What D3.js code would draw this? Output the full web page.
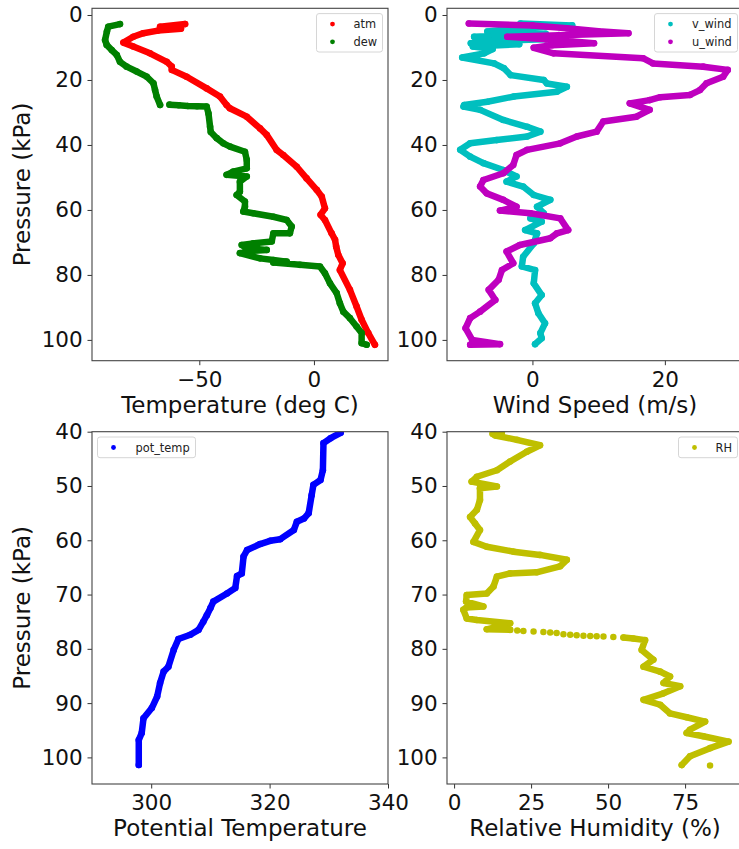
<!DOCTYPE html>
<html>
<head>
<meta charset="utf-8">
<script src="https://cdn.jsdelivr.net/npm/d3@7"></script>
<style>
  body { margin: 0; background: #fff; }
  svg { display: block; font-family: "DejaVu Sans", sans-serif; }
</style>
</head>
<body>
<svg id="chart" width="739" height="849"></svg>
<script>
// sounding data: [pressure kPa, value]; null = gap between dots
const atm = [[2.8,-56.2],[3.6,-67.1],[4.2,-58],[4.8,-68],[5.6,-74.4],[6.7,-78.8],[8.5,-83.1],[9.7,-78.8],
  [11.8,-71.5],[14.4,-64.2],[15.9,-62.0],[16.9,-62.0],[19.0,-55.5],[22.6,-46.8],[25.1,-41.0],[27.7,-38.1],
  [28.7,-36.7],[31.3,-29.3],[34.9,-23.5],[36.9,-20.6],[41.5,-16.3],[43.1,-13.4],[46.7,-7.5],[50.3,-3.2],
  [53.8,1.2],[55.9,3.4],[59.5,4.8],[61.5,2.9],[63.1,4.8],[67.2,7.7],[69.2,9.2],[71.3,9.7],[73.8,10.6],
  [76.4,12.5],[78.5,11.3],[84.6,15.7],[89.7,18.6],[93.8,20.8],[97.9,23.7],[101.5,26.6]];
const dew = [[2.8,-84.6],[3.6,-89.7],[5.1,-90.3],[7.7,-91.1],[9.2,-90.4],[10.8,-88.2],[12.3,-86.0],[14.4,-84.6],
  [15.9,-81.7],[17.4,-77.3],[19.0,-72.9],[21.0,-70.0],[23.1,-69.3],[25.1,-68.6],[27.7,-67.1],null,
  [27.6,-63],[27.8,-59],[28.0,-55],[28.1,-51],[28.2,-46.8],[30.3,-46.0],[34.4,-45.3],[36.0,-45.0],[37.9,-42.4],
  [39.5,-39.5],[40.5,-36.6],[42.1,-30.1],[44.6,-29.3],[47.2,-29.3],[48.2,-35.2],[49.2,-38.1],[49.7,-29.3],
  [51.3,-32.3],[54.4,-32.3],[55.4,-33.7],[57.4,-30.1],[59.0,-30.1],[60.5,-30.8],[61.0,-26.5],[62.1,-17.7],
  [63.1,-11.9],[65.1,-9.7],[67.2,-10.5],[67.2,-17.7],[69.7,-18.4],[70.3,-26.5],[70.8,-31.5],[71.8,-29.3],
  [72.3,-20.6],[72.6,-26.5],[73.3,-32.3],[74.9,-23.5],[75.4,-17.7],[75.9,-11.9],[76.2,-17.7],[76.9,-6.1],
  [77.4,2.6],[79.5,4.8],[82.6,7.0],[85.6,9.9],[88.7,11.3],[91.3,12.8],[93.3,15.7],[95.9,18.6],[97.9,20.8],
  [101.0,20.8],[101.5,23.0]];
const vWind = [[2.6,-1.8],[3.2,6.0],[4.0,-2],[5.1,-6.8],[5.8,2],[6.7,-8.8],[7.3,3.7],[8.0,-6],[8.7,-9.3],
  [9.0,-2],[9.7,-9.0],[10.5,-6],[11.8,-7.3],[13.1,-10.6],[14.9,-5.8],[16.4,-4.3],[18.5,-3.3],[20.0,1.7],
  [21.1,2.2],[22.1,5.2],[23.6,3.7],[25.1,-2.8],[26.7,-6.8],[27.7,-10.3],[28.2,-10.4],[29.2,-7.9],[32.3,-4.4],
  [34.4,-0.8],[35.9,1.2],[37.4,-0.8],[38.5,-5.4],[39.5,-9.4],[41.5,-10.9],[43.6,-9.4],[45.6,-7.4],[47.7,-4.4],
  [49.7,-2.4],[51.3,-3.9],[52.8,-1.4],[55.4,0.2],[56.9,2.7],[59.0,0.7],[61.0,1.7],[62.6,-0.3],[63.6,1.4],
  [66.2,-1.1],[67.2,0.7],[70.3,0.2],[74.4,-1.4],[77.4,-1.6],[78.5,0.4],[82.6,0.2],[86.2,1.4],[88.7,0.4],
  [91.8,0.9],[94.9,1.9],[97.9,1.2],[99.5,1.4],[101.3,0.4]];
const uWind = [[2.6,-9.6],[3.2,0],[4.1,5.2],[5.0,10],[5.6,14.5],[6.2,4],[6.7,-3.8],[7.5,2],[8.7,9.3],[9.3,3],
  [10.1,0.2],[11.8,3.2],[13.3,16.7],[14.9,18.2],[15.9,25.8],[16.9,29.5],[19.0,28.8],[21.0,26.3],[23.1,25.3],
  [24.6,23.8],[25.3,19.3],[26.2,17.7],[27.2,14.7],[29.2,17.7],[31.3,15.7],[32.8,10.7],[35.9,9.7],[37.4,6.7],
  [39.5,4.2],[41.5,-0.8],[43.1,-2.4],[46.2,-2.9],[48.7,-4.4],[50.8,-7.4],[52.8,-7.9],[54.9,-6.9],[56.9,-4.4],
  [59.0,-2.4],[60.2,-4.9],[61.0,-0.3],[62.6,4.2],[66.2,5.4],[67.2,3.7],[68.7,2.7],[70.8,-1.9],[72.8,-3.9],
  [76.4,-2.9],[78.5,-4.6],[81.5,-5.1],[84.6,-6.6],[87.7,-5.6],[91.3,-7.9],[93.3,-9.4],[96.4,-10.1],[100.0,-9.1],
  [101.3,-4.9],[101.5,-9.4]];
const potTemp = [[40.2,332.0],[41.2,330.3],[42.1,329.1],[47.1,329.0],[48.9,328.6],[49.8,327.4],[51.7,327.1],
  [55.0,326.6],[56.0,325.8],[56.6,324.6],[58.1,324.1],[59.8,321.8],[60.1,320.1],[60.7,318.4],[61.8,316.2],
  [63.0,315.6],[66.1,315.3],[66.6,314.5],[68.8,314.2],[69.8,312.8],[71.3,310.5],[72.5,310.0],[73.8,309.4],
  [75.0,308.8],[76.5,308.0],[77.4,306.6],[78.2,304.6],[80.2,303.8],[83.3,302.9],[84.2,302.1],[86.3,301.5],
  [88.8,301.0],[90.9,300.1],[92.8,298.7],[95.5,298.4],[96.8,297.9],[101.4,297.9]];
const rh = [[40.2,15.5],[40.4,12.5],[40.7,13.4],[41.5,20.4],[42.5,27.9],[43.7,23.6],[45.5,18.2],[47.1,13.9],
  [48.3,7.4],[49.2,5.7],[50.1,13.9],[50.4,8.4],[52.6,8.4],[54.4,7.4],[55.7,5.2],[56.9,6.8],[58.1,8.4],
  [60.3,6.3],[61.2,10.6],[62.1,19.3],[62.7,27.9],[63.6,36.6],[64.8,34.4],[65.9,26.8],[66.1,18.2],[66.7,13.9],
  [68.5,12.8],[69.8,10.6],[70.1,4.1],[71.3,3.9],[72.2,9.5],[72.4,4],[72.8,3.0],[74.4,4.1],[74.7,7.4],
  [75.3,18.2],[76.4,10.6],[76.5,18.2],null,[76.6,20.5],null,[76.7,22.5],null,[76.8,25.8],null,[76.9,29.0],null,
  [77.0,31.2],null,[77.1,33.3],null,[77.3,35.5],null,[77.4,37.7],null,[77.5,39.8],null,[77.6,42.0],null,
  [77.65,44.2],null,[77.7,46.3],null,[77.75,48.5],null,[77.8,51.7],null,[77.9,55.0],[78.1,58.2],[78.4,62.0],
  [80.2,60.9],[82.0,64.7],[83.3,61.5],[84.2,66.9],[85.1,70.1],[86.3,68.0],[86.9,73.4],[88.2,68.0],[89.4,61.5],
  [90.3,66.9],[91.9,70.1],[92.6,75.5],[93.4,81.5],[94.9,76.6],[95.5,75.5],[96.1,80.9],[97.1,89.1],[98.3,83.1],
  [99.8,76.6],[101.4,73.9],null,[101.5,83.1]];

// axis ticks
const pTicksTop = [0, 20, 40, 60, 80, 100];
const pTicksBottom = [40, 50, 60, 70, 80, 90, 100];
const tempTicks = [-50, 0];
const windTicks = [0, 20];
const thetaTicks = [300, 320, 340];
const rhTicks = [0, 25, 50, 75];

const svg = d3.select('#chart');

function drawPanel(cfg) {
  const x = d3.scaleLinear().domain(cfg.xDomain).range([cfg.left, cfg.right]);
  const y = d3.scaleLinear().domain(cfg.yDomain).range([cfg.top, cfg.bottom]);
  const g = svg.append('g');

  // the traces: a thick line plus the dots themselves
  const clipId = 'clip' + cfg.id;
  g.append('clipPath').attr('id', clipId).append('rect')
    .attr('x', cfg.left).attr('y', cfg.top)
    .attr('width', cfg.right - cfg.left).attr('height', cfg.bottom - cfg.top);
  const plot = g.append('g').attr('clip-path', 'url(#' + clipId + ')');

  const line = d3.line()
    .defined(d => d !== null)
    .x(d => x(d[1]))
    .y(d => y(d[0]));

  cfg.series.forEach(s => {
    plot.append('path')
      .attr('d', line(s.data))
      .attr('fill', 'none')
      .attr('stroke', s.color)
      .attr('stroke-width', 6.5)
      .attr('stroke-linejoin', 'round')
      .attr('stroke-linecap', 'round');
    // lone dots (gap on both sides) are drawn smaller
    const pts = s.data.map((d, i) => d && {
      d: d,
      lone: !s.data[i - 1] && !s.data[i + 1]
    }).filter(Boolean);
    plot.selectAll(null)
      .data(pts)
      .enter()
      .append('circle')
      .attr('cx', p => x(p.d[1]))
      .attr('cy', p => y(p.d[0]))
      .attr('r', p => p.lone ? 2.4 : 3.3)
      .attr('fill', s.color);
  });

  // axes
  const xAxis = g.append('g')
    .attr('transform', 'translate(0,' + cfg.bottom + ')')
    .call(d3.axisBottom(x).tickValues(cfg.xTicks).tickSize(4.5).tickPadding(6.3).tickSizeOuter(0));
  const yAxis = g.append('g')
    .attr('transform', 'translate(' + cfg.left + ',0)')
    .call(d3.axisLeft(y).tickValues(cfg.yTicks).tickSize(4.5).tickPadding(4.8).tickSizeOuter(0));
  [xAxis, yAxis].forEach(a => {
    a.select('.domain').remove();
    a.selectAll('.tick line').attr('stroke', '#333').attr('stroke-width', 1);
    a.selectAll('.tick text').attr('font-size', 21.5).attr('fill', '#111')
      .attr('font-family', '"DejaVu Sans", sans-serif');
  });

  // frame
  g.append('rect')
    .attr('x', cfg.left).attr('y', cfg.top)
    .attr('width', cfg.right - cfg.left).attr('height', cfg.bottom - cfg.top)
    .attr('fill', 'none').attr('stroke', '#444').attr('stroke-width', 1.1);

  // axis labels
  g.append('text')
    .attr('x', (cfg.left + cfg.right) / 2)
    .attr('y', cfg.bottom + 52)
    .attr('text-anchor', 'middle')
    .attr('font-size', 23).attr('fill', '#111')
    .text(cfg.xLabel);
  if (cfg.yLabel) {
    g.append('text')
      .attr('transform', 'translate(29.5,' + (cfg.top + cfg.bottom) / 2 + ') rotate(-90)')
      .attr('text-anchor', 'middle')
      .attr('font-size', 23).attr('fill', '#111')
      .text(cfg.yLabel);
  }

  // legend
  const rowH = 17.7;
  const lw = cfg.legendWidth;
  const lh = cfg.series.length * rowH + 3;
  const lx = cfg.legendSide === 'left' ? cfg.left + 5.5 : cfg.right - 5.5 - lw;
  const ly = cfg.top + 5.3;
  const leg = g.append('g').attr('transform', 'translate(' + lx + ',' + ly + ')');
  leg.append('rect')
    .attr('width', lw).attr('height', lh).attr('rx', 2.5)
    .attr('fill', 'white').attr('fill-opacity', 0.8)
    .attr('stroke', '#d6d6d6').attr('stroke-width', 1);
  cfg.series.forEach((s, i) => {
    const cy = 10.5 + i * rowH;
    leg.append('circle').attr('cx', 16).attr('cy', cy).attr('r', 2.4).attr('fill', s.color);
    leg.append('text')
      .attr('x', cfg.legendTextX).attr('y', cy + 4.1)
      .attr('font-size', 11.4).attr('fill', '#222')
      .text(s.name);
  });
}

drawPanel({
  id: 1, left: 92, right: 388, top: 8.3, bottom: 360.7,
  xDomain: [-96.8, 32.3], yDomain: [-2.06, 106.4],
  xTicks: tempTicks, yTicks: pTicksTop,
  xLabel: 'Temperature (deg C)', yLabel: 'Pressure (kPa)',
  series: [{ name: 'atm', color: '#ff0000', data: atm }, { name: 'dew', color: '#008000', data: dew }],
  legendSide: 'right', legendWidth: 66, legendTextX: 37
});
drawPanel({
  id: 2, left: 447, right: 743, top: 8.3, bottom: 360.7,
  xDomain: [-12.9, 31.8], yDomain: [-2.06, 106.4],
  xTicks: windTicks, yTicks: pTicksTop,
  xLabel: 'Wind Speed (m/s)', yLabel: null,
  series: [{ name: 'v_wind', color: '#00bfbf', data: vWind }, { name: 'u_wind', color: '#bf00bf', data: uWind }],
  legendSide: 'right', legendWidth: 83, legendTextX: 37.5
});
drawPanel({
  id: 3, left: 92, right: 388, top: 431.7, bottom: 784,
  xDomain: [290, 340], yDomain: [40, 104.9],
  xTicks: thetaTicks, yTicks: pTicksBottom,
  xLabel: 'Potential Temperature', yLabel: 'Pressure (kPa)',
  series: [{ name: 'pot_temp', color: '#0000ff', data: potTemp }],
  legendSide: 'left', legendWidth: 98, legendTextX: 38
});
drawPanel({
  id: 4, left: 447, right: 743, top: 431.7, bottom: 784,
  xDomain: [-2.3, 93.8], yDomain: [40, 104.9],
  xTicks: rhTicks, yTicks: pTicksBottom,
  xLabel: 'Relative Humidity (%)', yLabel: null,
  series: [{ name: 'RH', color: '#bfbf00', data: rh }],
  legendSide: 'right', legendWidth: 59, legendTextX: 37
});
</script>
</body>
</html>
